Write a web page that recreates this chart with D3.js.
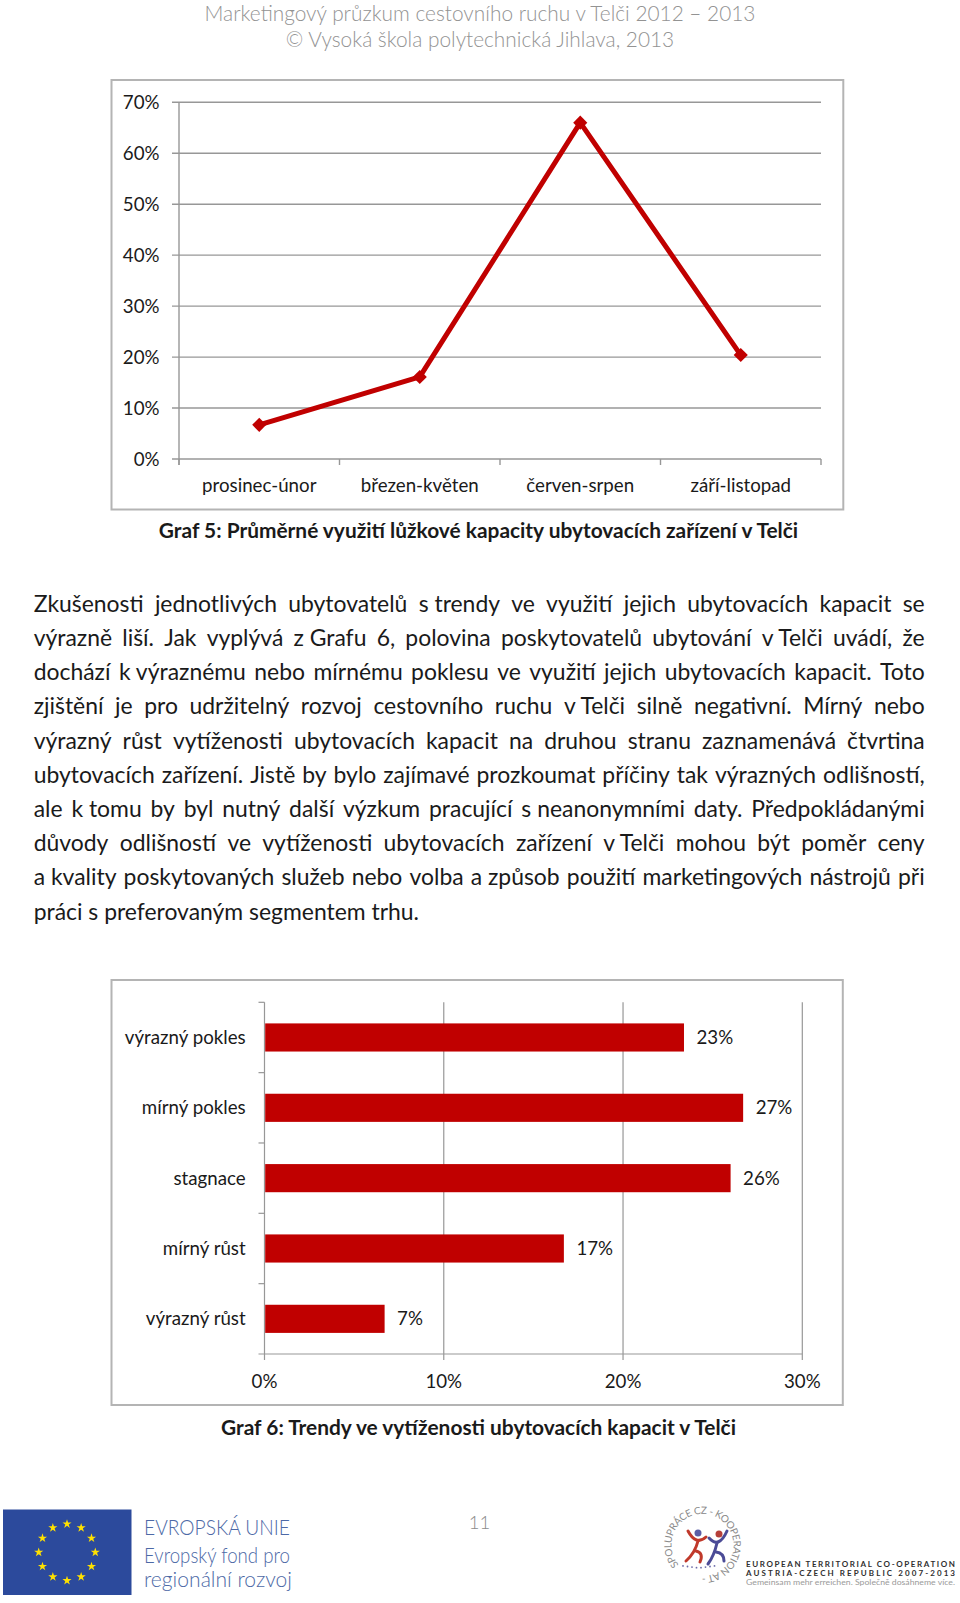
<!DOCTYPE html>
<html>
<head>
<meta charset="utf-8">
<script src="https://cdn.jsdelivr.net/npm/d3@7.9.0/dist/d3.min.js"></script>
<style>
  body { margin: 0; background: #fff; }
  svg { display: block; }
</style>
</head>
<body>
<svg id="page" width="960" height="1603"></svg>
<script>
// ---------- data ----------
const seasons = ['prosinec-únor', 'březen-květen', 'červen-srpen', 'září-listopad'];
const occupancy = [0.067, 0.161, 0.66, 0.204];
const occTicks = [0, 0.1, 0.2, 0.3, 0.4, 0.5, 0.6, 0.7];

const trends = ['výrazný pokles', 'mírný pokles', 'stagnace', 'mírný růst', 'výrazný růst'];
const trendShares = [0.234, 0.267, 0.26, 0.167, 0.067];
const trendTicks = [0, 0.1, 0.2, 0.3];

const header = ['Marketingový průzkum cestovního ruchu v Telči 2012 – 2013',
                '© Vysoká škola polytechnická Jihlava, 2013'];
const caption5 = 'Graf 5: Průměrné využití lůžkové kapacity ubytovacích zařízení v Telči';
const caption6 = 'Graf 6: Trendy ve vytíženosti ubytovacích kapacit v Telči';

// non-breaking spaces after one-letter prepositions, as in the document
const paragraph = [
  'Zkušenosti jednotlivých ubytovatelů s\u00a0trendy ve využití jejich ubytovacích kapacit se',
  'výrazně liší. Jak vyplývá z\u00a0Grafu 6, polovina poskytovatelů ubytování v\u00a0Telči uvádí, že',
  'dochází k\u00a0výraznému nebo mírnému poklesu ve využití jejich ubytovacích kapacit. Toto',
  'zjištění je pro udržitelný rozvoj cestovního ruchu v\u00a0Telči silně negativní. Mírný nebo',
  'výrazný růst vytíženosti ubytovacích kapacit na druhou stranu zaznamenává čtvrtina',
  'ubytovacích zařízení. Jistě by bylo zajímavé prozkoumat příčiny tak výrazných odlišností,',
  'ale k\u00a0tomu by byl nutný další výzkum pracující s\u00a0neanonymními daty. Předpokládanými',
  'důvody odlišností ve vytíženosti ubytovacích zařízení v\u00a0Telči mohou být poměr ceny',
  'a\u00a0kvality poskytovaných služeb nebo volba a\u00a0způsob použití marketingových nástrojů při',
  'práci s\u00a0preferovaným segmentem trhu.'
];

const FONT = "Lato, 'Open Sans', sans-serif";
const RED = '#c00000';
const GRID = '#979797';
const FRAME = '#b4b4b4';

const svg = d3.select('#page');
const scratch = svg.append('g').attr('visibility', 'hidden');

/* ---------- text helpers ---------- */
function textWidth(str, size, weight = 400) {
  const t = scratch.append('text')
    .attr('font-family', FONT).attr('font-weight', weight)
    .attr('font-size', size).text(str);
  const w = t.node().getComputedTextLength();
  t.remove();
  return w;
}
// font size that makes str as wide as it is in the picture
const fitSize = (str, target, weight = 400) => 100 * target / textWidth(str, 100, weight);

function label(g, str, x, y, size, opts = {}) {
  return g.append('text')
    .attr('x', x).attr('y', y).attr('dy', '0.35em')
    .attr('font-family', FONT)
    .attr('font-size', size)
    .attr('font-weight', opts.weight || 400)
    .attr('fill', opts.fill || '#1a1a1a')
    .attr('text-anchor', opts.anchor || 'middle')
    .text(str);
}

const chartSize = fitSize('prosinec-únor', 114.5);

/* ---------- page header ---------- */
const headSize = fitSize(header[0], 551, 300);
label(svg, header[0], 480, 13.5, headSize, { weight: 300, fill: '#939393' });
label(svg, header[1], 480, 40, headSize, { weight: 300, fill: '#939393' });

/* ---------- graf 5: line chart ---------- */
function renderLineChart() {
  const g = svg.append('g');
  const box = { left: 111.5, top: 80, right: 843.3, bottom: 509.5 };
  const area = { left: 179, right: 821, top: 102.3, bottom: 459 };

  g.append('rect')
    .attr('x', box.left).attr('y', box.top)
    .attr('width', box.right - box.left).attr('height', box.bottom - box.top)
    .attr('fill', '#fff').attr('stroke', FRAME).attr('stroke-width', 2);

  const x = d3.scaleBand().domain(seasons).range([area.left, area.right]);
  const y = d3.scaleLinear().domain([0, 0.7]).range([area.bottom, area.top]);
  const pct = d3.format('.0%');

  // gridlines (with the small outer tick on the left)
  g.append('g').selectAll('line').data(occTicks).join('line')
    .attr('x1', area.left - 7).attr('x2', area.right)
    .attr('y1', d => y(d)).attr('y2', d => y(d))
    .attr('stroke', GRID).attr('stroke-width', 1.4);

  g.append('line')
    .attr('x1', area.left).attr('x2', area.left)
    .attr('y1', y(0.7)).attr('y2', y(0) + 6)
    .attr('stroke', GRID).attr('stroke-width', 1.4);

  // category ticks at band edges
  const edges = seasons.map(d => x(d)).concat([x(seasons[seasons.length - 1]) + x.bandwidth()]);
  g.append('g').selectAll('line').data(edges).join('line')
    .attr('x1', d => d).attr('x2', d => d)
    .attr('y1', y(0)).attr('y2', y(0) + 6)
    .attr('stroke', GRID).attr('stroke-width', 1.4);

  occTicks.forEach(t => label(g, pct(t), 159.5, y(t), chartSize, { anchor: 'end' }));
  seasons.forEach(s => label(g, s, x(s) + x.bandwidth() / 2, 485, chartSize));

  const pts = seasons.map((s, i) => [x(s) + x.bandwidth() / 2, y(occupancy[i])]);
  g.append('path')
    .attr('d', d3.line()(pts))
    .attr('fill', 'none').attr('stroke', RED)
    .attr('stroke-width', 5).attr('stroke-linejoin', 'round');

  g.append('g').selectAll('path').data(pts).join('path')
    .attr('d', d3.symbol(d3.symbolSquare, 100))
    .attr('transform', d => `translate(${d[0]},${d[1]}) rotate(45)`)
    .attr('fill', RED);
}

/* ---------- justified paragraph ---------- */
function renderParagraph() {
  const left = 33.7, width = 891, top = 611.7, lead = 34.2;
  const natural = fitSize(paragraph[paragraph.length - 1], 385.5);
  const size = Math.min(natural, ...paragraph.slice(0, -1).map(l => fitSize(l, 886)));
  const g = svg.append('g')
    .attr('font-family', FONT).attr('font-size', size).attr('fill', '#1a1a1a');

  paragraph.forEach((line, i) => {
    const yy = top + i * lead;
    if (i === paragraph.length - 1) {
      g.append('text').attr('x', left).attr('y', yy).text(line);
      return;
    }
    const words = line.split(' ');
    const widths = words.map(w => textWidth(w, size));
    const gap = (width - d3.sum(widths)) / (words.length - 1);
    const t = g.append('text').attr('y', yy);
    let cx = left;
    words.forEach((w, j) => {
      t.append('tspan').attr('x', cx).text(w);
      cx += widths[j] + gap;
    });
  });
}

/* ---------- graf 6: bar chart ---------- */
function renderBarChart() {
  const g = svg.append('g');
  const box = { left: 111.5, top: 980, right: 842.8, bottom: 1405 };
  const area = { left: 264.5, right: 802.3, top: 1002.3, bottom: 1354 };

  g.append('rect')
    .attr('x', box.left).attr('y', box.top)
    .attr('width', box.right - box.left).attr('height', box.bottom - box.top)
    .attr('fill', '#fff').attr('stroke', FRAME).attr('stroke-width', 2);

  const x = d3.scaleLinear().domain([0, 0.3]).range([area.left, area.right]);
  const y = d3.scaleBand().domain(trends).range([area.top, area.bottom])
    .paddingInner(0.6).paddingOuter(0.3);
  const pct = d3.format('.0%');

  // vertical gridlines, running down into the axis ticks
  g.append('g').selectAll('line').data(trendTicks).join('line')
    .attr('x1', d => x(d)).attr('x2', d => x(d))
    .attr('y1', area.top).attr('y2', area.bottom + 6)
    .attr('stroke', GRID).attr('stroke-width', 1.2);

  g.append('g').selectAll('rect').data(trends).join('rect')
    .attr('x', x(0) + 0.7)
    .attr('y', d => y(d))
    .attr('width', (d, i) => x(trendShares[i]) - x(0) - 0.7)
    .attr('height', y.bandwidth())
    .attr('fill', RED);

  // x axis line + category ticks at band edges
  g.append('line')
    .attr('x1', x(0) - 6).attr('x2', x(0.3))
    .attr('y1', area.bottom).attr('y2', area.bottom)
    .attr('stroke', GRID).attr('stroke-width', 1.2);
  const gapHalf = (y.step() - y.bandwidth()) / 2;
  const edges = trends.map(d => y(d) - gapHalf);
  g.append('g').selectAll('line').data(edges).join('line')
    .attr('x1', x(0) - 6).attr('x2', x(0))
    .attr('y1', d => d).attr('y2', d => d)
    .attr('stroke', GRID).attr('stroke-width', 1.2);

  trends.forEach((c, i) => {
    const cy = y(c) + y.bandwidth() / 2;
    label(g, c, 245.7, cy, chartSize, { anchor: 'end' });
    label(g, pct(trendShares[i]), x(trendShares[i]) + 12.5, cy, chartSize, { anchor: 'start' });
  });
  trendTicks.forEach(t => label(g, pct(t), x(t), 1381, chartSize));
}

renderLineChart();
const c5 = fitSize(caption5, 640, 700);
label(svg, caption5, 478.5, 530.6, c5, { weight: 700 });
renderParagraph();
renderBarChart();
label(svg, caption6, 478.5, 1427.3, c5, { weight: 700 });

/* ---------- footer: page number and logos ---------- */
label(svg, '11', 479.5, 1523, fitSize('11', 21.5, 300), { weight: 300, fill: '#8c8c8c' });

function renderFooter() {
  const g = svg.append('g');
  // EU flag
  g.append('rect').attr('x', 3).attr('y', 1509.5).attr('width', 128.5).attr('height', 85.5)
    .attr('fill', '#2c4a9c');
  const stars = d3.range(12).map(i => {
    const a = i / 12 * 2 * Math.PI;
    return [67 + 28.3 * Math.sin(a), 1552.3 - 28.3 * Math.cos(a)];
  });
  g.append('g').selectAll('path').data(stars).join('path')
    .attr('d', d3.symbol(d3.symbolStar, 26))
    .attr('transform', d => `translate(${d[0]},${d[1]})`)
    .attr('fill', '#ffe100');

  const euLines = [['EVROPSKÁ UNIE', 1535, 146], ['Evropský fond pro', 1562.5, 146],
                   ['regionální rozvoj', 1587, 148]];
  euLines.forEach(([s, yy, w]) => {
    g.append('text').attr('x', 144).attr('y', yy)
      .attr('font-family', FONT).attr('font-weight', 300).attr('font-size', 21)
      .attr('fill', '#4d69a6')
      .attr('textLength', w).attr('lengthAdjust', 'spacingAndGlyphs')
      .text(s);
  });

  // cooperation logo: ring text
  const cx = 702.5, cy = 1545, r = 31, a0 = 140 * Math.PI / 180;
  const p0 = [cx + r * Math.cos(a0), cy + r * Math.sin(a0)];
  const p1 = [cx - r * Math.cos(a0), cy - r * Math.sin(a0)];
  g.append('defs').append('path').attr('id', 'ring')
    .attr('d', `M${p0} A${r},${r} 0 1 1 ${p1} A${r},${r} 0 1 1 ${p0}`);
  g.append('text')
    .attr('font-family', FONT).attr('font-size', 10).attr('fill', '#8a8a8a')
    .append('textPath').attr('href', '#ring')
    .attr('textLength', 168).attr('lengthAdjust', 'spacing')
    .text('SPOLUPRÁCE CZ - KOOPERATION AT -');

  // two little figures
  g.append('circle').attr('cx', 698).attr('cy', 1533).attr('r', 3.5).attr('fill', '#5b5ea6');
  g.append('circle').attr('cx', 719).attr('cy', 1534).attr('r', 3.5).attr('fill', '#b5403a');
  const strokes = [
    ['M688,1531 Q696,1546 706,1537', '#c0392b'],
    ['M698,1541 Q695,1553 686,1561', '#c0392b'],
    ['M696,1551 Q704,1553 700,1562', '#c0392b'],
    ['M709,1538 Q719,1549 727,1531', '#4b4b96'],
    ['M717,1543 Q714,1556 708,1564', '#4b4b96'],
    ['M716,1552 Q724,1553 724,1561', '#4b4b96']
  ];
  g.append('g').selectAll('path').data(strokes).join('path')
    .attr('d', d => d[0]).attr('stroke', d => d[1])
    .attr('stroke-width', 3).attr('fill', 'none').attr('stroke-linecap', 'round');
  g.append('g').selectAll('circle').data(d3.range(8)).join('circle')
    .attr('cx', d => 683 + d * 4.5).attr('cy', d => 1568 - Math.abs(d - 3.5) * 0.6)
    .attr('r', 0.9).attr('fill', '#6b6ba8');

  const etc = [['EUROPEAN TERRITORIAL CO-OPERATION', 1566.5, 700, '#2f2f2f', 'spacing', 8],
               ['AUSTRIA-CZECH REPUBLIC 2007-2013', 1576, 700, '#2f2f2f', 'spacing', 8],
               ['Gemeinsam mehr erreichen. Společně dosáhneme více.', 1585, 400, '#9a9a9a',
                'spacingAndGlyphs', 7.5]];
  etc.forEach(([s, yy, wt, fill, adj, fs]) => {
    g.append('text').attr('x', 746).attr('y', yy)
      .attr('font-family', FONT).attr('font-weight', wt).attr('font-size', fs)
      .attr('fill', fill)
      .attr('textLength', 209).attr('lengthAdjust', adj)
      .text(s);
  });
}
renderFooter();
</script>
</body>
</html>
